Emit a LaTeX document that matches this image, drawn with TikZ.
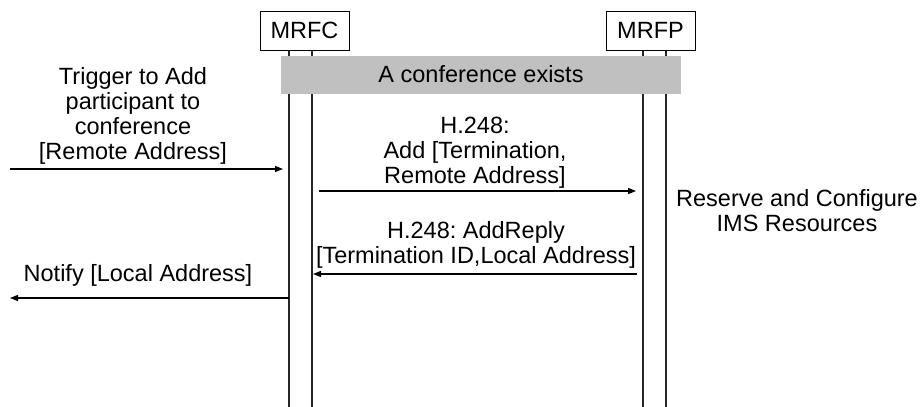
\documentclass[tikz,border=0pt]{standalone}
\usepackage{fontspec}
\setmainfont{Liberation Sans}
\usetikzlibrary{arrows.meta}
\definecolor{bargray}{HTML}{C0C0C0}
\frenchspacing
\begin{document}
\begin{tikzpicture}[x=1pt,y=-1pt,
  every node/.style={font=\fontsize{23.5}{24.7}\selectfont\frenchspacing, inner sep=0pt},
  entity/.style={draw, line width=1pt, minimum width=89pt, minimum height=39pt},
  lifeline/.style={line width=1.3pt, black!85},
  msg/.style={line width=1.1pt, -{Triangle[length=8pt,width=6pt]}},
  lbl/.style={align=center, anchor=base}
]
\useasboundingbox (0,0) rectangle (924,407);
% participants
\node[entity] (mrfc) at (304.5,30.5) {MRFC};
\node[entity] (mrfp) at (650.5,30.5) {MRFP};
% lifelines
\coordinate (c1) at (289,407);
\coordinate (c2) at (312,407);
\coordinate (p1) at (643,407);
\coordinate (p2) at (666,407);
\draw[lifeline] (mrfc.south -| c1) -- (c1);
\draw[lifeline] (mrfc.south -| c2) -- (c2);
\draw[lifeline] (mrfp.south -| p1) -- (p1);
\draw[lifeline] (mrfp.south -| p2) -- (p2);
% conference bar
\node[fill=bargray, minimum width=400pt, minimum height=38pt] (conf) at (481,74.5) {A conference exists};
% labels (anchored at the baseline of their last line)
\node[lbl] (trig) at (133,159) {Trigger to Add\\participant to\\conference\\{}[Remote Address]};
\node[lbl] (add) at (475,183) {H.248:\\Add [Termination,\\Remote Address]};
\node[lbl] (reply) at (476,263) {H.248: AddReply\\{}[Termination ID,Local Address]};
\node[lbl] (notify) at (138,281) {Notify [Local Address]};
\node[lbl] (res) at (797,231) {Reserve and Configure\\IMS Resources};
% messages
\coordinate (m1s) at (10,169);
\coordinate (m1e) at (283,169);
\coordinate (m2s) at (319,191);
\coordinate (m2e) at (636,191);
\coordinate (m3s) at (637,274);
\coordinate (m3e) at (313,274);
\coordinate (m4s) at (289,298);
\coordinate (m4e) at (10,298);
\draw[msg] (m1s) -- (m1e);
\draw[msg] (m2s) -- (m2e);
\draw[msg] (m3s) -- (m3e);
\draw[msg] (m4s) -- (m4e);
\end{tikzpicture}
\end{document}
